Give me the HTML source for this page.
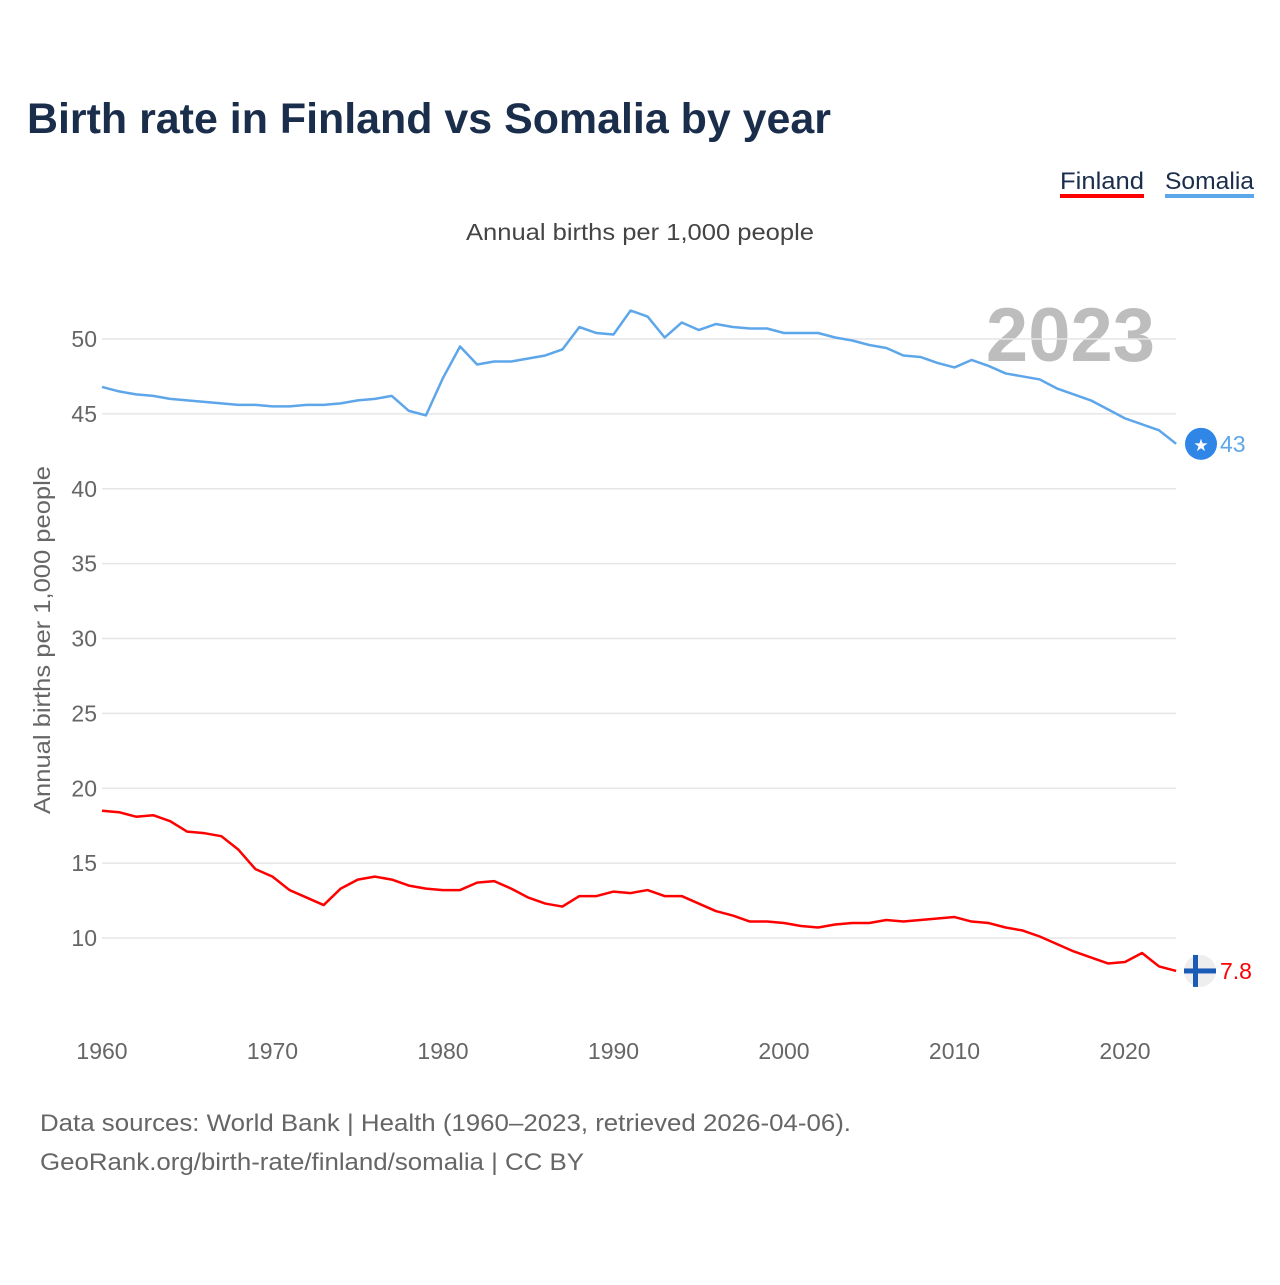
<!DOCTYPE html>
<html><head><meta charset="utf-8"><style>
body{margin:0;background:#fff;font-family:"Liberation Sans",sans-serif}
svg text{font-family:"Liberation Sans",sans-serif}
</style></head><body>
<svg width="1280" height="1280" viewBox="0 0 1280 1280">
<rect width="1280" height="1280" fill="#fff"/>
<text x="27" y="133" font-size="43" font-weight="bold" fill="#1a2e4c" textLength="804" lengthAdjust="spacingAndGlyphs">Birth rate in Finland vs Somalia by year</text>
<g><text x="1060" y="189" font-size="24" fill="#1a2e4c" textLength="84" lengthAdjust="spacingAndGlyphs">Finland</text><rect x="1060" y="194" width="84" height="4" fill="#ff0000"/></g>
<g><text x="1165" y="189" font-size="24" fill="#1a2e4c" textLength="89" lengthAdjust="spacingAndGlyphs">Somalia</text><rect x="1165" y="194" width="89" height="4" fill="#5ea6ea"/></g>
<text x="466" y="240" font-size="23" fill="#444" textLength="348" lengthAdjust="spacingAndGlyphs">Annual births per 1,000 people</text>
<text x="1155" y="361" font-size="76" font-weight="bold" fill="#bdbdbd" text-anchor="end">2023</text>
<text transform="translate(50,640) rotate(-90)" font-size="23" fill="#666" text-anchor="middle" textLength="348" lengthAdjust="spacingAndGlyphs">Annual births per 1,000 people</text>
<g id="grid"></g><g id="yt"></g><g id="xt"></g><g id="lines"></g><g id="ends"></g>
<text x="40" y="1131" font-size="24" fill="#666" textLength="811" lengthAdjust="spacingAndGlyphs">Data sources: World Bank | Health (1960–2023, retrieved 2026-04-06).</text>
<text x="40" y="1170" font-size="24" fill="#666" textLength="544" lengthAdjust="spacingAndGlyphs">GeoRank.org/birth-rate/finland/somalia | CC BY</text>
</svg>
<script>
const years=[];for(let y=1960;y<=2023;y++)years.push(y);
const somalia=[46.8,46.5,46.3,46.2,46.0,45.9,45.8,45.7,45.6,45.6,45.5,45.5,45.6,45.6,45.7,45.9,46.0,46.2,45.2,44.9,47.4,49.5,48.3,48.5,48.5,48.7,48.9,49.3,50.8,50.4,50.3,51.9,51.5,50.1,51.1,50.6,51.0,50.8,50.7,50.7,50.4,50.4,50.4,50.1,49.9,49.6,49.4,48.9,48.8,48.4,48.1,48.6,48.2,47.7,47.5,47.3,46.7,46.3,45.9,45.3,44.7,44.3,43.9,43.0];
const finland=[18.5,18.4,18.1,18.2,17.8,17.1,17.0,16.8,15.9,14.6,14.1,13.2,12.7,12.2,13.3,13.9,14.1,13.9,13.5,13.3,13.2,13.2,13.7,13.8,13.3,12.7,12.3,12.1,12.8,12.8,13.1,13.0,13.2,12.8,12.8,12.3,11.8,11.5,11.1,11.1,11.0,10.8,10.7,10.9,11.0,11.0,11.2,11.1,11.2,11.3,11.4,11.1,11.0,10.7,10.5,10.1,9.6,9.1,8.7,8.3,8.4,9.0,8.1,7.8];
const yTicks=[10,15,20,25,30,35,40,45,50];
const xTicks=[1960,1970,1980,1990,2000,2010,2020];
const X=y=>102+(y-1960)*17.05, Y=v=>938-(v-10)*14.975;
const NS='http://www.w3.org/2000/svg';
function mk(t,a,p){const e=document.createElementNS(NS,t);for(const k in a)e.setAttribute(k,a[k]);document.getElementById(p).appendChild(e);return e;}
yTicks.forEach(v=>{
 const l=mk('line',{x1:102,x2:1176,y1:Y(v),y2:Y(v),stroke:'#e6e6e6','stroke-width':1.5},'grid');
 
 
 const t=mk('text',{x:97,y:Y(v)+8,'font-size':23,fill:'#666','text-anchor':'end'},'yt');t.textContent=v;
 
 
});
xTicks.forEach(v=>{
 const t=mk('text',{x:X(v),y:1059,'font-size':23,fill:'#666','text-anchor':'middle'},'xt');t.textContent=v;
 
 
});
function line(d,c,n){
 const p=mk('path',{d:d.map((v,i)=>(i?'L':'M')+X(years[i])+' '+Y(v)).join(''),fill:'none',stroke:c,'stroke-width':2.5,'stroke-linejoin':'round'},'lines');
 
 
}
line(somalia,'#5ea6ea','somalia-line');line(finland,'#ff0000','finland-line');
const ls=somalia[somalia.length-1], lf=finland[finland.length-1];
const c1=mk('circle',{cx:1201,cy:Y(ls),r:16,fill:'#2f86e6'},'ends');


const s=mk('text',{x:1201,y:Y(ls)+7,'font-size':17,fill:'#fff','text-anchor':'middle'},'ends');s.textContent='★';
const t1=mk('text',{x:1220,y:Y(ls)+8,'font-size':23,fill:'#5ea6ea'},'ends');t1.textContent=ls;


const c2=mk('circle',{cx:1200,cy:Y(lf),r:16,fill:'#eeeeee'},'ends');


mk('rect',{x:1184,y:Y(lf)-2.5,width:32,height:5,fill:'#1a5bb8'},'ends');
mk('rect',{x:1193,y:Y(lf)-16,width:5,height:32,fill:'#1a5bb8'},'ends');
const t2=mk('text',{x:1220,y:Y(lf)+8,'font-size':23,fill:'#ff0000'},'ends');t2.textContent=lf;


</script>
</body></html>
